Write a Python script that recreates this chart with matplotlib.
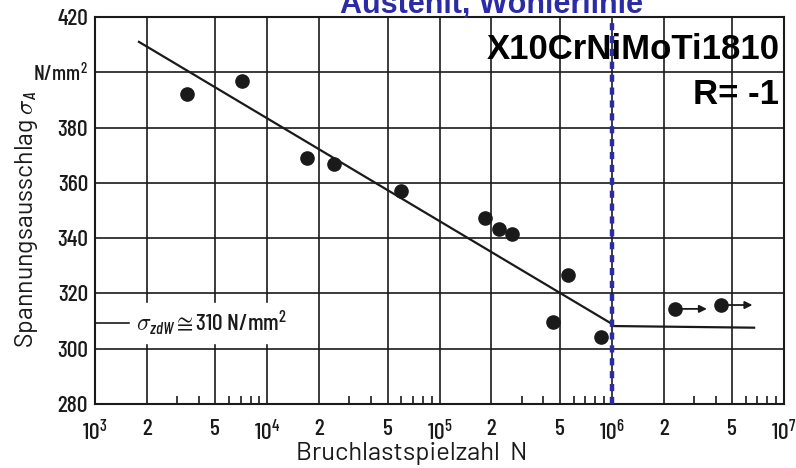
import numpy as np
import matplotlib.pyplot as plt
from matplotlib.ticker import FixedLocator, NullFormatter

plt.rcParams['font.family'] = ['Barlow Condensed', 'DejaVu Sans']
plt.rcParams['font.weight'] = 'medium'
plt.rcParams['mathtext.fontset'] = 'custom'
plt.rcParams['mathtext.rm'] = 'Barlow Condensed:medium'
plt.rcParams['mathtext.it'] = 'Barlow Condensed:italic'
plt.rcParams['mathtext.bf'] = 'Barlow Condensed:bold'

# Data
cycles = [3.4e3, 7.1e3, 1.7e4, 2.45e4, 6.0e4, 1.83e5, 2.2e5, 2.65e5, 5.55e5, 4.55e5, 8.7e5]
stress = [392.2, 396.9, 369.0, 366.8, 357.0, 347.3, 343.3, 341.5, 326.7, 309.7, 304.3]

runout_cycles = [2.32e6, 4.3e6]
runout_stress = [314.4, 315.8]
runout_arrow_end = [3.7e6, 6.8e6]

fit_cycles = [1.8e3, 1.0e6]
fit_stress = [411.0, 309.0]
endur_cycles = [1.0e6, 6.7e6]
endur_stress = [308.2, 307.6]

y_ticks = [280, 300, 320, 340, 360, 380, 400, 420]
y_labels = ['280', '300', '320', '340', '360', '380', 'N/mm$^2$', '420']
x_major = [1e3, 2e3, 5e3, 1e4, 2e4, 5e4, 1e5, 2e5, 5e5, 1e6, 2e6, 5e6, 1e7]
x_labels = ['$10^3$', '2', '5', '$10^4$', '2', '5', '$10^5$', '2', '5',
            '$10^6$', '2', '5', '$10^7$']

ink = '#1a1a1a'
blue = '#2b2ba6'

fig = plt.figure(figsize=(7.96, 4.68), dpi=100)
ax = fig.add_axes([0.1193, 0.1368, 0.8657, 0.8269])

ax.set_xscale('log')
ax.set_xlim(1e3, 1e7)
ax.set_ylim(280, 420)

# grid
ax.xaxis.set_major_locator(FixedLocator(x_major))
ax.set_xticklabels(x_labels)
minor = [m * 10**d for d in range(3, 7) for m in (3, 4, 6, 7, 8, 9)]
ax.xaxis.set_minor_locator(FixedLocator(minor))
ax.xaxis.set_minor_formatter(NullFormatter())
ax.set_yticks(y_ticks)
ax.set_yticklabels(y_labels)
ax.grid(True, which='major', color=ink, linewidth=1.2)
ax.tick_params(axis='both', which='major', length=0, labelsize=17, colors=ink)
ax.tick_params(axis='x', which='major', pad=11)
ax.tick_params(axis='y', which='major', pad=5)
ax.tick_params(axis='x', which='minor', direction='in', length=6, width=1.2, color=ink)
ax.get_yticklabels()[6].set_fontsize(15.5)
for s in ax.spines.values():
    s.set_color(ink)
    s.set_linewidth(1.5)

# fit lines
ax.plot(fit_cycles, fit_stress, color=ink, linewidth=1.6, zorder=3)
ax.plot(endur_cycles, endur_stress, color=ink, linewidth=1.6, zorder=3)

# points
ax.plot(cycles, stress, 'o', color=ink, markersize=9.5, zorder=4)
ax.plot(runout_cycles, runout_stress, 'o', color=ink, markersize=9.5, zorder=4)
for x0, y0, x1 in zip(runout_cycles, runout_stress, runout_arrow_end):
    ax.annotate('', xy=(x1, y0), xytext=(x0, y0),
                arrowprops=dict(arrowstyle='-|>', color=ink, lw=1.3, mutation_scale=11))

# endurance limit label
ax.plot([1e3, 1.65e3], [309.3, 309.3], color=ink, linewidth=1.2, clip_on=False)
ax.text(1.72e3, 309.3, r'$\sigma_{zdW}\cong$310 N/mm$^2$', fontsize=17, va='center',
        ha='left', color=ink, backgroundcolor='white')

# 10^6 marker
ax.axvline(1e6, color=blue, linewidth=3.2, linestyle=(0, (1.6, 1.3)), zorder=5)

ax.text(0.993, 0.915, 'X10CrNiMoTi1810', transform=ax.transAxes, ha='right', va='center',
        fontsize=25, fontweight='bold', family='Liberation Sans', color='black', zorder=6)
ax.text(0.993, 0.8, 'R= -1', transform=ax.transAxes, ha='right', va='center',
        fontsize=25, fontweight='bold', family='Liberation Sans', color='black', zorder=6)

ax.set_xlabel('Bruchlastspielzahl  N', fontsize=18.5, color=ink,
              family=['Barlow', 'DejaVu Sans'], fontweight='normal')
ax.xaxis.label.set_va('center')
ax.xaxis.set_label_coords(0.459, -0.129)
ax.set_ylabel(r'Spannungsausschlag $\sigma_A$', fontsize=18, color=ink,
              family=['Barlow', 'DejaVu Sans'], fontweight='normal')
ax.yaxis.label.set_va('center')
ax.yaxis.set_label_coords(-0.099, 0.478)

# cut-off title from the slide
fig.text(0.617, 1 - 13 / 468, 'Austenit, Wöhlerlinie', ha='center', va='baseline',
         fontsize=22, fontweight='bold', family='Liberation Sans', color=blue)

fig.savefig('out.png', dpi=100)
